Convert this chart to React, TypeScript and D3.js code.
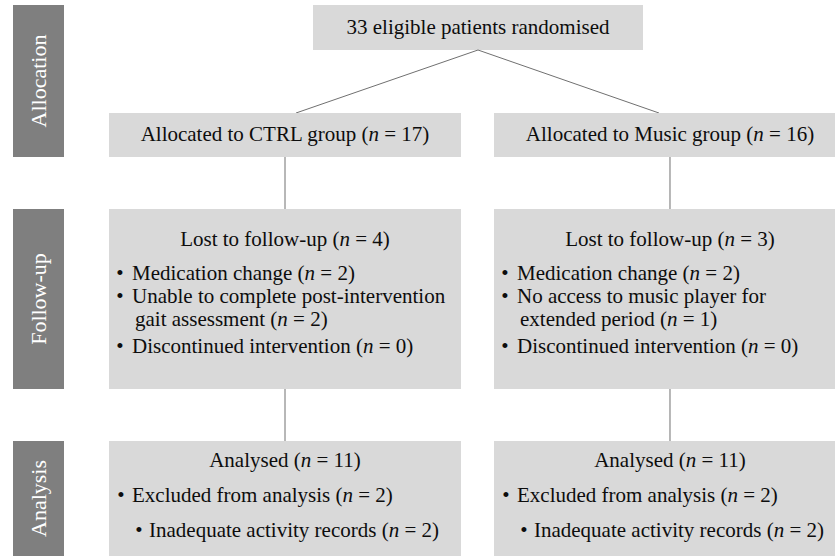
import React from 'react';
import * as d3 from 'd3';

// flow stages and groups
const stages = ['Allocation', 'Follow-up', 'Analysis'];
const groups = ['CTRL', 'Music'];

// counts
const randomised = 33;
const allocated = [17, 16];
const lost = [4, 3];
const lostReasons = [
  [
    { text: ['Medication change'], n: 2 },
    { text: ['Unable to complete post-intervention', 'gait assessment'], n: 2 },
    { text: ['Discontinued intervention'], n: 0 },
  ],
  [
    { text: ['Medication change'], n: 2 },
    { text: ['No access to music player for', 'extended period'], n: 1 },
    { text: ['Discontinued intervention'], n: 0 },
  ],
];
const analysed = [11, 11];
const excluded = [2, 2];
const inadequate = [2, 2];

const W = 835;
const H = 556;
const FONT = "'Liberation Serif', 'DejaVu Serif', serif";
const FS = 21;
const BOX = '#d9d9d9';
const SIDE = '#7f7f7f';
const LINE = '#707070';
const INK = '#0d0d0d';

const N = ({ n }: { n: number }) => (
  <>
    {'('}
    <tspan fontStyle="italic">n</tspan>
    {` = ${n})`}
  </>
);

const App = () => {
  // rows of the flow
  const stageTop = [5, 209, 441];
  const stageBottom = [157, 389, 562];

  const x = d3.scaleBand<string>().domain(groups).range([109, 846]).paddingInner(0.0857);
  const bw = x.bandwidth();
  const cx = (g: string) => (x(g) ?? 0) + bw / 2;

  const top = { x0: 313, x1: 643, y0: 5, y1: 50 };
  const topCx = (top.x0 + top.x1) / 2;
  const allocBox = { y0: 113, y1: 157 };

  return (
    <svg
      width={W}
      height={H}
      style={{ position: 'absolute', left: 0, top: 0, background: '#fff' }}
      fontFamily={FONT}
      fontSize={FS}
    >
      {/* stage labels */}
      {stages.map((s, i) => (
        <g key={s}>
          <rect x={13} y={stageTop[i]} width={51} height={stageBottom[i] - stageTop[i]} fill={SIDE} />
          <text
            transform={`translate(${39 + 7},${(stageTop[i] + Math.min(stageBottom[i], H)) / 2}) rotate(-90)`}
            textAnchor="middle"
            fill="#fff"
            fontSize={22}
          >
            {s}
          </text>
        </g>
      ))}

      {/* randomised */}
      <rect x={top.x0} y={top.y0} width={top.x1 - top.x0} height={top.y1 - top.y0} fill={BOX} />
      <text x={topCx} y={34} textAnchor="middle" fill={INK}>
        {randomised} eligible patients randomised
      </text>

      {groups.map((g, gi) => {
        const x0 = x(g) ?? 0;
        const c = cx(g);
        const side = c < topCx ? 1 : -1;
        // follow-up lines
        let yy = 280;
        const reasonLines: { t: string; y: number; first: boolean; last: boolean; n: number }[] = [];
        lostReasons[gi].forEach((r) => {
          r.text.forEach((t, li) => {
            reasonLines.push({ t, y: yy, first: li === 0, last: li === r.text.length - 1, n: r.n });
            yy += 23;
          });
          if (r.text.length > 1) yy += 4;
        });
        return (
          <g key={g}>
            <line x1={topCx} y1={top.y1} x2={c + side * 11} y2={allocBox.y0} stroke={LINE} strokeWidth={1} />
            <line x1={c} y1={allocBox.y1} x2={c} y2={stageTop[1]} stroke={LINE} strokeWidth={1} />
            <line x1={c} y1={stageBottom[1]} x2={c} y2={stageTop[2]} stroke={LINE} strokeWidth={1} />

            {/* allocation */}
            <rect x={x0} y={allocBox.y0} width={bw} height={allocBox.y1 - allocBox.y0} fill={BOX} />
            <text x={c} y={141} textAnchor="middle" fill={INK}>
              Allocated to {g} group <N n={allocated[gi]} />
            </text>

            {/* follow-up */}
            <rect x={x0} y={stageTop[1]} width={bw} height={stageBottom[1] - stageTop[1]} fill={BOX} />
            <text x={c} y={246} textAnchor="middle" fill={INK}>
              Lost to follow-up <N n={lost[gi]} />
            </text>
            {reasonLines.map((l, i) => (
              <g key={i}>
                {l.first && (
                  <text x={x0 + 11} y={l.y} textAnchor="middle" fill={INK}>
                    •
                  </text>
                )}
                <text x={x0 + (l.first ? 23 : 26)} y={l.y} fill={INK}>
                  {l.t}
                  {l.last && (
                    <>
                      {' '}
                      <N n={l.n} />
                    </>
                  )}
                </text>
              </g>
            ))}

            {/* analysis */}
            <rect x={x0} y={stageTop[2]} width={bw} height={stageBottom[2] - stageTop[2]} fill={BOX} />
            <text x={c} y={467} textAnchor="middle" fill={INK}>
              Analysed <N n={analysed[gi]} />
            </text>
            <text x={x0 + 12} y={502} textAnchor="middle" fill={INK}>
              •
            </text>
            <text x={x0 + 23} y={502} fill={INK}>
              Excluded from analysis <N n={excluded[gi]} />
            </text>
            <text x={x0 + 30} y={537} textAnchor="middle" fill={INK}>
              •
            </text>
            <text x={x0 + 40} y={537} fill={INK}>
              Inadequate activity records <N n={inadequate[gi]} />
            </text>
          </g>
        );
      })}
    </svg>
  );
};

export default App;
